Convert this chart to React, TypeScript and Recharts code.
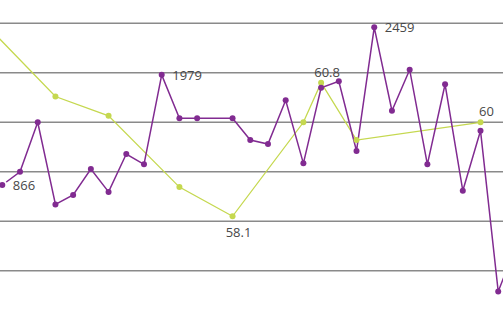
import { LineChart, Line, XAxis, YAxis, ReferenceLine, LabelList } from 'recharts';

// slot numbers along the x axis (-1 and 29 sit just outside the visible window)
const slots = [-1, 0, 1, 2, 3, 4, 5, 6, 7, 8, 9, 10, 11, 12, 13, 14, 15, 16, 17, 18, 19, 20, 21, 22, 23, 24, 25, 26, 27, 28, 29];

// purple series (left scale)
const purpleValues: (number | null)[] = [
  null, 866, 1000, 1500, 670, 765, 1028, 796, 1179, 1075, 1979,
  1540, 1540, null, 1540, 1321, 1280, 1722, 1085, 1849, 1914,
  1210, 2459, 1617, 2031, 1075, 1884, 808, 1415, -210, 250,
];

// green series (right scale), sparse
const greenValues: (number | null)[] = [
  62.0, null, null, null, 60.52, null, null, 60.13, null, null, null,
  58.69, null, null, 58.1, null, null, null, 60.0, 60.8, null,
  59.64, null, null, null, null, null, null, 60.0, null, null,
];

const purpleLabelSlots = [0, 9, 21];
const greenLabelSlots = [13, 18, 27];
const gridValues = [0, 500, 1000, 1500, 2000, 2500];

const PURPLE = '#812b91';
const GREEN = '#c5d84f';

const data = slots.map((s, i) => ({ slot: s, p: purpleValues[i], g: greenValues[i] }));

const labelStyle = { fontFamily: '"Open Sans", sans-serif', fontSize: 13, fill: '#484848' };

export default function App() {
  const purpleLabel = (props: any) => {
    const { x, y, value, index } = props;
    if (value == null || !purpleLabelSlots.includes(data[index].slot)) return null;
    return (
      <text x={x + 10.5} y={y} dy="0.36em" textAnchor="start" style={labelStyle}>
        {value}
      </text>
    );
  };

  const greenLabel = (props: any) => {
    const { x, y, value, index } = props;
    if (value == null || !greenLabelSlots.includes(data[index].slot)) return null;
    // the low point gets its label underneath
    const below = data[index].slot === 13;
    return (
      <text x={x + 6} y={below ? y + 16 : y - 10.5} dy="0.36em" textAnchor="middle" style={labelStyle}>
        {value}
      </text>
    );
  };

  return (
    <div style={{ position: 'absolute', left: 0, top: 0 }}>
      <LineChart width={503} height={315} data={data} margin={{ top: 0, right: 0, bottom: 0, left: 0 }}>
        <XAxis type="number" dataKey="slot" domain={[-0.13, 28.27]} allowDataOverflow hide />
        <YAxis yAxisId="p" domain={[-447.6, 2735.4]} allowDataOverflow hide />
        <YAxis yAxisId="g" orientation="right" domain={[56.105, 62.471]} allowDataOverflow hide />
        {gridValues.map((v) => (
          <ReferenceLine key={v} yAxisId="p" y={v} stroke="#8a8a8a" strokeWidth={1.5} />
        ))}
        <Line
          yAxisId="g"
          dataKey="g"
          stroke={GREEN}
          strokeWidth={1.3}
          connectNulls
          dot={{ r: 3, fill: GREEN, stroke: 'none' }}
          isAnimationActive={false}
        >
          <LabelList dataKey="g" content={greenLabel} />
        </Line>
        <Line
          yAxisId="p"
          dataKey="p"
          stroke={PURPLE}
          strokeWidth={1.5}
          connectNulls
          dot={{ r: 3, fill: PURPLE, stroke: 'none' }}
          isAnimationActive={false}
        >
          <LabelList dataKey="p" content={purpleLabel} />
        </Line>
      </LineChart>
    </div>
  );
}
